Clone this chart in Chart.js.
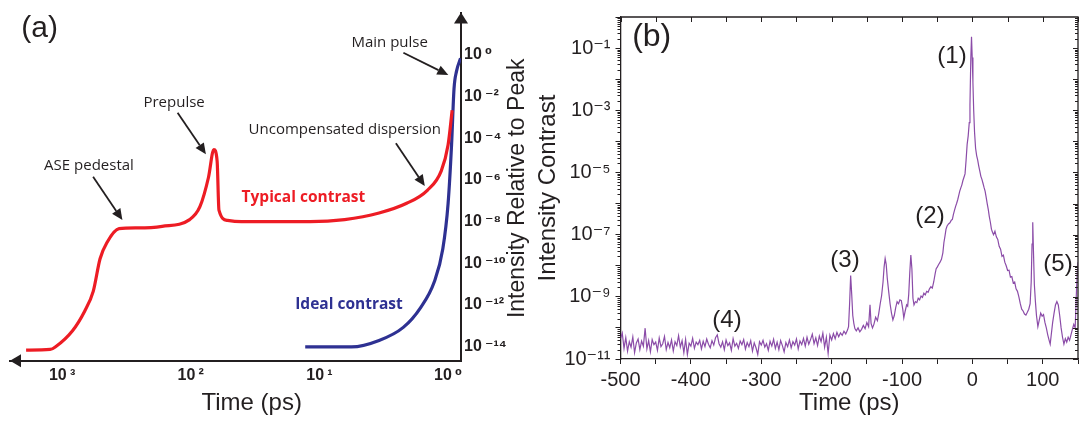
<!DOCTYPE html>
<html><head><meta charset="utf-8">
<script src="https://cdn.jsdelivr.net/npm/chart.js@4.4.1/dist/chart.umd.min.js"></script>
<style>
html,body{margin:0;padding:0;background:#fff;overflow:hidden}
#wrapA{position:absolute;left:0;top:0;width:532px;height:423px}
#wrapB{position:absolute;left:532px;top:0;width:550px;height:423px}
canvas{display:block}
</style></head><body>
<div id="wrapA"><canvas id="cA" width="532" height="423"></canvas></div>
<div id="wrapB"><canvas id="cB" width="550" height="423"></canvas></div>
<script>
// ===== Panel (a): schematic contrast =====
const aXTicks = [1000, 100, 10, 1];
const aXTickLabels = ['10\u2009³', '10\u2009²', '10\u2009¹', '10\u2009⁰'];
const aYTicks = [1, 1e-2, 1e-4, 1e-6, 1e-8, 1e-10, 1e-12, 1e-14];
const aYTickLabels = ['10\u2009⁰', '10\u2009⁻²', '10\u2009⁻⁴', '10\u2009⁻⁶', '10\u2009⁻⁸', '10\u2009⁻¹⁰', '10\u2009⁻¹²', '10\u2009⁻¹⁴'];
const aTypicalTime = [1905, 1239, 1130, 830, 668, 573, 507, 448, 361, 257, 167, 102, 84.9, 72.8, 66.2, 62.4, 60.4, 51.8, 40.5, 11.8, 6.37, 3.44, 2.10, 1.45, 1.13, 1.0, 0.93];
const aTypicalIntensity = [6.9e-15, 7.4e-15, 9.8e-15, 5.9e-14, 5.1e-13, 4.5e-12, 1.66e-10, 1e-9, 4.6e-9, 5.0e-9, 6.0e-9, 1.26e-8, 5.2e-8, 1.35e-6, 2.9e-5, 8.1e-6, 3.6e-8, 1.15e-8, 1.0e-8, 1.0e-8, 1.26e-8, 2.6e-8, 7.6e-8, 3.2e-7, 2.75e-6, 4.9e-5, 2.2e-3];
const aIdealTime = [12.9, 5.64, 3.44, 2.23, 1.64, 1.28, 1.10, 1.0, 0.94, 0.90, 0.86, 0.80];
const aIdealIntensity = [9.8e-15, 9.8e-15, 2.0e-14, 8.5e-14, 7.4e-13, 1.3e-11, 4.9e-10, 7.6e-8, 4.9e-5, 2.3e-2, 0.166, 0.69];

// ===== Panel (b): measured contrast =====
const bXTicks = [-500, -450, -400, -350, -300, -250, -200, -150, -100, -50, 0, 50, 100, 150];
const bXTickLabels = ['-500', '', '-400', '', '-300', '', '-200', '', '-100', '', '0', '', '100', ''];
const bYTicks = [1e-11, 1e-10, 1e-9, 1e-8, 1e-7, 1e-6, 1e-5, 1e-4, 1e-3, 1e-2, 1e-1, 1];
const bYTickLabels = ['10⁻¹¹', '', '10⁻⁹', '', '10⁻⁷', '', '10⁻⁵', '', '10⁻³', '', '10⁻¹', ''];
const bTime = [
 -500,-497.5,-495,-492.5,-490,-487.5,-485,-482.5,-480,-477.5,-475,-472.5,-470,-467.5,-465,-462.5,-460,-457.5,-455,-452.5,
 -450,-447.5,-445,-442.5,-440,-437.5,-435,-432.5,-430,-427.5,-425,-422.5,-420,-417.5,-415,-412.5,-410,-407.5,-405,-402.5,
 -400,-397.5,-395,-392.5,-390,-387.5,-385,-382.5,-380,-377.5,-375,-372.5,-370,-367.5,-365,-362.5,-360,-357.5,-355,-352.5,
 -350,-347.5,-345,-342.5,-340,-337.5,-335,-332.5,-330,-327.5,-325,-322.5,-320,-317.5,-315,-312.5,-310,-307.5,-305,-302.5,
 -300,-297.5,-295,-292.5,-290,-287.5,-285,-282.5,-280,-277.5,-275,-272.5,-270,-267.5,-265,-262.5,-260,-257.5,-255,-252.5,
 -250,-247.5,-245,-242.5,-240,-237.5,-235,-232.5,-230,-227.5,-225,-222.5,-220,-217.5,-215,-212.5,-210,-207.5,-205,-202.5,
 -200,-197.5,-195,-192.5,-190,-187.5,-185,-182.5,-180,-177.5,
 -176,-174.5,-173,-171.5,-170,-168.5,-167,-165,-162.5,-160,-157.5,-155,-152.5,-150,-147.5,-145.5,-144,-142,-140,-137.5,
 -135,-133,-131,-129,-127,-125.5,-124,-122.5,-121,-119,-117,-115,-113,-111,-109,-107,-105,-103,-101,-99,
 -97.5,-95.5,-93.5,-92,-90.5,-89,-87.5,-86,-84.5,-83,-81,-79,-77,-75,-73,-71,-69,-67,-65,-63,
 -61,-59,-57,-55,-53,-51.5,-50,-48,-46,-44,-42,-40.5,-39,-37.5,-36,-34,-32,-30,-28.5,-27,
 -25.5,-24,-22.5,-21,-19.5,-18,-16.5,-15,-13.5,-12,-10.5,-9,-7.5,-6,-4.5,-3.5,-2.3,-1.3,-0.3,0.7,
 1.8,3,4.5,6,7.5,9,10.5,12,13.5,15,16.5,18,19.5,21,22.5,24,25.5,27,28.5,30,
 32,34,36,38,40,42,44,46,48,50,52,54,56,58,60,62,64,66,68,70,
 72,74,76,78,80,82,83.5,84.7,85.7,86.7,88,89.5,91,93,95,97,99,101,103,105,
 107,109,110.5,112,114,116,118,120,122,124,126,128,130,132,134,136,138,140,142,144,
 146,148,149,150
];
const bIntensity = [
 4.5e-11,6.8e-11,2.2e-11,4.9e-11,1.8e-11,3.6e-11,2.4e-11,5.1e-11,1.6e-11,3.3e-11,4.4e-11,2.0e-11,3.8e-11,2.6e-11,9.8e-11,2.1e-11,3.9e-11,1.7e-11,4.2e-11,2.9e-11,
 3.5e-11,1.9e-11,4.7e-11,2.5e-11,3.1e-11,5.3e-11,2.0e-11,3.4e-11,2.3e-11,4.1e-11,1.8e-11,3.6e-11,2.7e-11,5.6e-11,2.4e-11,3.9e-11,1.6e-11,4.3e-11,1.4e-11,3.2e-11,
 2.6e-11,4.6e-11,2.2e-11,3.5e-11,2.9e-11,4.0e-11,2.1e-11,3.7e-11,2.5e-11,4.4e-11,3.0e-11,2.3e-11,3.9e-11,2.8e-11,4.8e-11,6.0e-11,3.1e-11,2.4e-11,3.6e-11,2.0e-11,
 4.1e-11,2.7e-11,3.3e-11,1.9e-11,4.5e-11,2.6e-11,3.2e-11,2.2e-11,3.8e-11,2.9e-11,4.2e-11,2.1e-11,3.4e-11,2.5e-11,3.9e-11,1.8e-11,3.3e-11,2.3e-11,1.4e-11,3.6e-11,
 2.8e-11,4.0e-11,2.4e-11,3.1e-11,1.9e-11,3.7e-11,2.6e-11,4.3e-11,2.2e-11,3.5e-11,2.0e-11,3.9e-11,2.7e-11,1.7e-11,3.4e-11,2.5e-11,4.1e-11,2.3e-11,3.6e-11,2.8e-11,
 4.4e-11,2.1e-11,3.8e-11,2.9e-11,4.6e-11,2.6e-11,5.0e-11,3.0e-11,4.2e-11,6.3e-11,3.1e-11,4.8e-11,2.7e-11,5.5e-11,3.6e-11,6.8e-11,2.4e-11,5.0e-11,1.5e-11,5.9e-11,
 4.1e-11,6.6e-11,4.5e-11,7.2e-11,5.2e-11,6.9e-11,5.8e-11,7.8e-11,6.4e-11,8.5e-11,
 1.1e-10,6.0e-10,4.8e-9,1.2e-9,2.5e-10,1.4e-10,9.5e-11,8.0e-11,1.0e-10,7.5e-11,9.0e-11,1.2e-10,9.5e-11,1.5e-10,1.1e-10,5.5e-10,1.4e-10,1.0e-10,1.3e-10,2.2e-10,
 1.7e-10,3.0e-10,6.0e-10,1.1e-9,3.0e-9,9.0e-9,1.7e-8,1.1e-8,4.0e-9,1.5e-9,6.0e-10,3.0e-10,1.8e-10,2.5e-10,4.5e-10,7.0e-10,6.0e-10,8.0e-10,7.5e-10,4.0e-10,
 2.1e-10,3.5e-10,5.5e-10,5.0e-10,1.2e-9,6.0e-9,2.2e-8,8.0e-9,9.0e-10,5.5e-10,7.0e-10,6.5e-10,9.0e-10,8.0e-10,1.05e-9,9.5e-10,1.3e-9,1.15e-9,1.5e-9,1.4e-9,
 1.8e-9,2.1e-9,1.9e-9,3.0e-9,5.5e-9,8.0e-9,9.0e-9,1.1e-8,1.3e-8,1.6e-8,2.6e-8,5.6e-8,9.0e-8,1.5e-7,1.9e-7,2.2e-7,2.4e-7,2.9e-7,3.1e-7,4.5e-7,
 6.0e-7,8.0e-7,1.0e-6,1.3e-6,1.8e-6,2.5e-6,3.2e-6,4.0e-6,5.5e-6,7.0e-6,9.0e-6,2.5e-5,8.0e-5,1.5e-4,4.0e-4,1.5e-3,4.6e-2,2.3e-1,5.0e-2,8.0e-3,
 1.0e-3,2.0e-4,6.0e-5,3.5e-5,2.5e-5,1.6e-5,1.1e-5,7.5e-6,6.0e-6,4.5e-6,3.3e-6,2.5e-6,1.6e-6,1.0e-6,6.5e-7,3.8e-7,2.5e-7,1.5e-7,1.2e-7,1.0e-7,
 1.3e-7,8.5e-8,7.0e-8,4.2e-8,3.4e-8,2.0e-8,2.2e-8,1.3e-8,1.0e-8,7.0e-9,7.2e-9,4.3e-9,4.5e-9,2.8e-9,3.0e-9,1.8e-9,1.5e-9,1.0e-9,6.0e-10,4.0e-10,
 3.5e-10,2.8e-10,2.6e-10,3.2e-10,4.0e-10,6.0e-10,3.0e-9,5.0e-8,2.5e-7,3.0e-8,2.5e-9,7.0e-10,2.5e-10,1.1e-10,1.8e-10,3.0e-10,2.4e-10,2.7e-10,1.5e-10,1.0e-10,
 6.0e-11,4.0e-11,3.0e-11,6.0e-11,1.5e-10,3.0e-10,5.5e-10,7.0e-10,5.5e-10,2.5e-10,1.0e-10,5.0e-11,3.0e-11,4.5e-11,3.5e-11,5.0e-11,4.0e-11,6.0e-11,9.0e-11,1.3e-10,
 1.0e-10,2.0e-9,6.0e-9,1.3e-8
];

// ===== helpers =====
const INK = '#231f20';
function labelFor(ticks, labels) {
  return function (v) {
    const i = ticks.findIndex(t => (t === 0 ? v === 0 : Math.abs(v / t - 1) < 1e-6));
    return i < 0 ? '' : labels[i];
  };
}
function arrow(ctx, x1, y1, x2, y2, len, half) {
  const ang = Math.atan2(y2 - y1, x2 - x1);
  const bx = x2 - len * Math.cos(ang), by = y2 - len * Math.sin(ang);
  ctx.beginPath(); ctx.moveTo(x1, y1); ctx.lineTo(bx, by); ctx.stroke();
  ctx.beginPath();
  ctx.moveTo(x2, y2);
  ctx.lineTo(bx + half * Math.sin(ang), by - half * Math.cos(ang));
  ctx.lineTo(bx - half * Math.sin(ang), by + half * Math.cos(ang));
  ctx.closePath(); ctx.fill();
}
function drawNotes(ctx, notes) {
  notes.forEach(n => {
    ctx.save();
    ctx.font = n.font; ctx.fillStyle = n.color || INK;
    ctx.textAlign = 'center'; ctx.textBaseline = 'middle';
    ctx.translate(n.x, n.y);
    if (n.rot) ctx.rotate(n.rot);
    ctx.fillText(n.text, 0, 0);
    ctx.restore();
  });
}

// ===== annotations (a) =====
const aNotes = [
  {text: '(a)', x: 39.7, y: 28.3, font: '30px "Liberation Sans"'},
  {text: 'Main pulse', x: 389.7, y: 42.7, font: '15px "Open Sans"'},
  {text: 'Prepulse', x: 174.1, y: 102.7, font: '15px "Open Sans"'},
  {text: 'Uncompensated dispersion', x: 344.8, y: 129.3, font: '15px "Open Sans"'},
  {text: 'ASE pedestal', x: 89, y: 166, font: '15px "Open Sans"'},
  {text: 'Typical contrast', x: 303.4, y: 197.3, font: 'bold 15.5px "Open Sans"', color: '#ed1c24'},
  {text: 'Ideal contrast', x: 349, y: 305, font: 'bold 15.5px "Open Sans"', color: '#2e3192'},
  {text: 'Time (ps)', x: 251.7, y: 403.3, font: '24px "Liberation Sans"'},
  {text: 'Intensity Relative to Peak', x: 518, y: 188.3, rot: -Math.PI / 2, font: '23px "Liberation Sans"'}
];
const aArrows = [[403.4, 52.7, 448.3, 75], [177.6, 112.7, 205.9, 154.3], [395.9, 143.3, 424.8, 186], [93.1, 176.7, 122.4, 220]];

const annotA = {
  id: 'annotA',
  afterDraw(chart) {
    const {ctx, chartArea: a} = chart;
    ctx.save();
    ctx.fillStyle = INK; ctx.strokeStyle = INK; ctx.lineWidth = 2;
    ctx.beginPath(); ctx.moveTo(a.right, a.top); ctx.lineTo(a.right - 7, a.top + 11); ctx.lineTo(a.right + 7, a.top + 11); ctx.closePath(); ctx.fill();
    ctx.beginPath(); ctx.moveTo(a.left, a.bottom); ctx.lineTo(a.left + 11, a.bottom - 6.5); ctx.lineTo(a.left + 11, a.bottom + 6.5); ctx.closePath(); ctx.fill();
    ctx.lineWidth = 1.8;
    aArrows.forEach(p => arrow(ctx, p[0], p[1], p[2], p[3], 11, 5));
    ctx.restore();
    drawNotes(ctx, aNotes);
  }
};

const aTickFont = {family: '"Liberation Sans", "DejaVu Sans"', weight: 'bold', size: 16};

new Chart(document.getElementById('cA'), {
  type: 'scatter',
  data: {
    datasets: [
      {label: 'Typical contrast', data: aTypicalTime.map((t, i) => ({x: t, y: aTypicalIntensity[i]})),
       showLine: true, borderColor: '#ed1c24', borderWidth: 3.2, pointRadius: 0, cubicInterpolationMode: 'monotone', borderJoinStyle: 'round'},
      {label: 'Ideal contrast', data: aIdealTime.map((t, i) => ({x: t, y: aIdealIntensity[i]})),
       showLine: true, borderColor: '#2e3192', borderWidth: 3.2, pointRadius: 0, cubicInterpolationMode: 'monotone', borderJoinStyle: 'round'}
    ]
  },
  options: {
    responsive: false, animation: false, events: [],
    layout: {padding: {left: 10, top: 5, right: 0, bottom: 0}},
    plugins: {legend: {display: false}, tooltip: {enabled: false}},
    scales: {
      x: {
        type: 'logarithmic', reverse: true, min: 0.794, max: 2541, position: 'bottom',
        grid: {display: false, drawTicks: false},
        border: {display: true, color: INK, width: 2},
        afterBuildTicks: s => { s.ticks = aXTicks.map(v => ({value: v})); },
        afterFit: s => { s.height = 62.3; },
        ticks: {autoSkip: false, maxRotation: 0, padding: 5, color: INK, font: aTickFont,
                callback: labelFor(aXTicks, aXTickLabels)}
      },
      y: {
        type: 'logarithmic', position: 'right', min: 2.14e-15, max: 107,
        grid: {display: false, drawTicks: false},
        border: {display: true, color: INK, width: 2},
        afterBuildTicks: s => { s.ticks = aYTicks.map(v => ({value: v})); },
        afterFit: s => { s.width = 71; },
        ticks: {autoSkip: false, padding: 3, color: INK, font: aTickFont,
                callback: labelFor(aYTicks, aYTickLabels)}
      }
    }
  },
  plugins: [annotA]
});

// ===== annotations (b) =====
const bNotes = [
  {text: '(b)', x: 119.7, y: 36.7, font: '32px "Liberation Sans"'},
  {text: '(1)', x: 420, y: 56, font: '24px "Liberation Sans"'},
  {text: '(2)', x: 398, y: 216.7, font: '24px "Liberation Sans"'},
  {text: '(3)', x: 313, y: 260, font: '24px "Liberation Sans"'},
  {text: '(4)', x: 195, y: 320, font: '24px "Liberation Sans"'},
  {text: '(5)', x: 526, y: 264, font: '24px "Liberation Sans"'}
];
const frameB = {
  id: 'frameB',
  afterDraw(chart) {
    const {ctx, chartArea: a, scales: {x, y}} = chart;
    ctx.save();
    ctx.strokeStyle = INK; ctx.lineWidth = 1.3;
    ctx.beginPath(); ctx.moveTo(a.left, a.top); ctx.lineTo(a.right, a.top); ctx.lineTo(a.right, a.bottom); ctx.stroke();
    ctx.lineWidth = 1;
    ctx.beginPath();
    bXTicks.forEach(v => { const px = Math.round(x.getPixelForValue(v)) + 0.5; ctx.moveTo(px, a.top); ctx.lineTo(px, a.top + 5); });
    for (let k = 0; k < bYTicks.length - 1; k++) {
      for (let m = 1; m < 10; m++) {
        const py = Math.round(y.getPixelForValue(bYTicks[k] * m)) + 0.5;
        const L = m === 1 ? 5 : 3;
        ctx.moveTo(a.right, py); ctx.lineTo(a.right - L, py);
        if (m > 1) { ctx.moveTo(a.left, py); ctx.lineTo(a.left - 3, py); }
      }
    }
    ctx.stroke();
    ctx.restore();
    drawNotes(ctx, bNotes);
  }
};

new Chart(document.getElementById('cB'), {
  type: 'scatter',
  data: {
    datasets: [{
      label: 'Intensity contrast', data: bTime.map((t, i) => ({x: t, y: bIntensity[i]})),
      showLine: true, borderColor: '#8b4ca8', borderWidth: 1.2, pointRadius: 0, tension: 0
    }]
  },
  options: {
    responsive: false, animation: false, events: [],
    layout: {padding: {left: 0, top: 11, right: 3, bottom: 0}},
    plugins: {legend: {display: false}, tooltip: {enabled: false}},
    scales: {
      x: {
        type: 'linear', min: -500, max: 150,
        grid: {display: true, drawOnChartArea: false, drawTicks: true, tickLength: 5, color: INK, lineWidth: 1},
        border: {display: true, color: INK, width: 1.3},
        afterBuildTicks: s => { s.ticks = bXTicks.map(v => ({value: v})); },
        afterFit: s => { s.height = 64; },
        ticks: {autoSkip: false, maxRotation: 0, padding: 4, color: INK,
                font: {family: '"Liberation Sans"', size: 20},
                callback: labelFor(bXTicks, bXTickLabels)},
        title: {display: true, text: 'Time (ps)', color: INK, font: {family: '"Liberation Sans"', size: 24},
                padding: {top: 0, bottom: 5.6}}
      },
      y: {
        type: 'logarithmic', min: 1e-11, max: 1,
        grid: {display: true, drawOnChartArea: false, drawTicks: true, tickLength: 5, color: INK, lineWidth: 1},
        border: {display: true, color: INK, width: 1.3},
        afterBuildTicks: s => { s.ticks = bYTicks.map(v => ({value: v})); },
        afterFit: s => { s.width = 88.5; },
        ticks: {autoSkip: false, padding: 5, color: INK,
                font: {family: '"Liberation Sans", "DejaVu Sans"', size: 20},
                callback: labelFor(bYTicks, bYTickLabels)},
        title: {display: true, text: 'Intensity Contrast', color: INK, font: {family: '"Liberation Sans"', size: 24},
                padding: {top: 2.3, bottom: 0}}
      }
    }
  },
  plugins: [frameB]
});
</script></body></html>
